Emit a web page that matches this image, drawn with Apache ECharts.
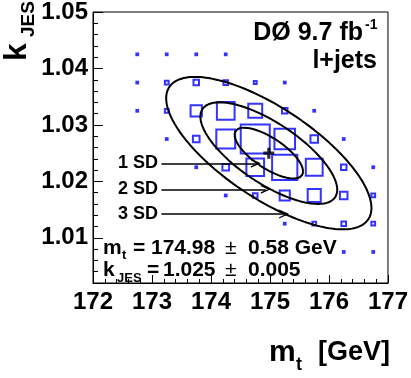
<!DOCTYPE html>
<html><head><meta charset="utf-8">
<script src="https://cdn.jsdelivr.net/npm/echarts@6/dist/echarts.min.js"></script>
<style>html,body{margin:0;padding:0;background:#fff}#c{width:411px;height:378px}</style>
</head><body><div id="c"></div>
<script>
// ---- data ----
const mtBins = [172.75, 173.25, 173.75, 174.25, 174.75, 175.25, 175.75, 176.25, 176.75];
const kjesBins = [1.0425, 1.0375, 1.0325, 1.0275, 1.0225, 1.0175, 1.0125, 1.0075];
// relative likelihood per (kJES row, mt column)
const likelihood = [
  [0.06, 0.06, 0.06, 0.06, 0,    0,    0,    0,    0   ],
  [0.06, 0.13, 0.19, 0.16, 0.10, 0.06, 0,    0,    0   ],
  [0.06, 0.13, 0.39, 0.61, 0.48, 0.19, 0.06, 0,    0   ],
  [0,    0.06, 0.23, 0.65, 1.00, 0.71, 0.26, 0.06, 0   ],
  [0,    0,    0.06, 0.23, 0.61, 0.87, 0.58, 0.19, 0.06],
  [0,    0,    0,    0.06, 0.16, 0.35, 0.45, 0.26, 0.13],
  [0,    0,    0,    0,    0,    0.06, 0.13, 0.16, 0.13],
  [0,    0,    0,    0,    0,    0,    0,    0.06, 0.06]
];
const xTickLabels = [172, 173, 174, 175, 176, 177];
const yTickLabels = [1.01, 1.02, 1.03, 1.04, 1.05];
const fitCenter = [174.98, 1.025];
const fitSigma = [0.58, 0.0045];
const fitCorrelation = -0.72;
const contourLevels = [1, 2, 3];
const contourLabels = ['1 SD', '2 SD', '3 SD'];
const arrowStartMt = 173.16;
const arrowEnds = [[174.76, 1.0232], [174.93, 1.0186], [175.24, 1.0142]];

// ---- build ----
const FF = '"Liberation Sans", Arial, Helvetica, sans-serif';
const boxes = [];
kjesBins.forEach((k, i) => mtBins.forEach((m, j) => {
  if (likelihood[i][j] > 0) boxes.push([m, k, likelihood[i][j]]);
}));

function contour(n) {
  const pts = [];
  const r = fitCorrelation, s = Math.sqrt(1 - r * r);
  for (let a = 0; a <= 360; a += 2) {
    const t = a * Math.PI / 180;
    pts.push([fitCenter[0] + n * fitSigma[0] * Math.cos(t),
              fitCenter[1] + n * fitSigma[1] * (r * Math.cos(t) + s * Math.sin(t))]);
  }
  return pts;
}

const arrowPath = 'path://M0,10 L5,0 L10,10 L8.4,10 L5,3.2 L1.6,10 Z';

const series = [
  {
    type: 'scatter', data: boxes, symbol: 'rect',
    symbolSize: v => Math.max(1.5, v[2] * 29),
    itemStyle: { color: 'rgba(0,0,0,0)', borderColor: '#0000ff', borderWidth: 2 },
    silent: true, z: 2
  }
];
contourLevels.forEach(n => series.push({
  type: 'line', data: contour(n), showSymbol: false, symbol: 'none',
  lineStyle: { color: '#000', width: 2 }, silent: true, z: 3
}));
series.push({
  type: 'scatter', data: [fitCenter],
  symbol: 'path://M3.5,0 H6.5 V3.5 H10 V6.5 H6.5 V10 H3.5 V6.5 H0 V3.5 H3.5 Z',
  symbolSize: 11, itemStyle: { color: '#000' }, silent: true, z: 5,
  markLine: {
    silent: true, animation: false,
    symbol: ['none', arrowPath], symbolSize: [9, 10],
    lineStyle: { color: '#000', width: 1.5, type: 'solid' },
    label: { show: false },
    data: arrowEnds.map(e => [{ coord: [arrowStartMt, e[1]] }, { coord: [e[0], e[1]] }])
  }
});

const txt = (text, x, y, size, align, extra, weight) => Object.assign({
  type: 'text', x: x, y: y, z: 20,
  style: { text: text, fill: '#000', fontSize: size, fontWeight: weight || 'bold', fontFamily: FF,
           align: align || 'left', verticalAlign: 'middle' }
}, extra || {});

const graphics = [
  txt('DØ 9.7 fb', 363, 33, 25, 'right'),
  txt('-1', 365, 25, 14, 'left'),
  txt('l+jets', 377, 61, 25, 'right'),
  txt('m', 103, 248, 21),
  txt('t', 122, 255, 13),
  txt('=', 133, 248, 21),
  txt('174.98', 151, 248, 21),
  txt('±', 225, 248, 21, 'left', null, 'normal'),
  txt('0.58 GeV', 248, 248, 21),
  txt('k', 103, 270, 21),
  txt('JES', 117, 278, 13),
  txt('=', 147, 270, 21),
  txt('1.025', 163, 270, 21),
  txt('±', 225, 270, 21, 'left', null, 'normal'),
  txt('0.005', 248, 270, 21),
  txt('m', 269, 353, 30),
  txt('t', 296, 365, 18),
  txt('[GeV]', 390, 353, 27, 'right'),
  txt('k', 17, 52, 32, 'center', { rotation: Math.PI / 2 }),
  txt('JES', 29, 19, 19, 'center', { rotation: Math.PI / 2 })
];
contourLabels.forEach((l, i) => graphics.push(txt(l, 118, [163, 189, 214][i], 18)));

const axisFont = { color: '#000', fontSize: 24, fontWeight: 'bold', fontFamily: FF };
const option = {
  animation: false,
  grid: { left: 93, right: 21, top: 11, bottom: 95, show: true, borderColor: '#000', borderWidth: 1, backgroundColor: 'transparent' },
  xAxis: {
    type: 'value', min: 172, max: 177, interval: 1,
    axisLine: { show: true, lineStyle: { color: '#000', width: 1 } },
    axisTick: { show: true, inside: true, length: 8, lineStyle: { color: '#000' } },
    minorTick: { show: true, splitNumber: 5, length: 4, lineStyle: { color: '#000' } },
    splitLine: { show: false },
    axisLabel: Object.assign({ margin: 7, formatter: v => xTickLabels.includes(v) ? String(v) : '' }, axisFont)
  },
  yAxis: [
    {
      type: 'value', min: 1.002, max: 1.05, interval: 0.002,
      axisLine: { show: true, lineStyle: { color: '#000', width: 1 } },
      axisTick: { show: true, inside: true, length: 5, lineStyle: { color: '#000' } },
      splitLine: { show: false }, axisLabel: { show: false }
    },
    {
      type: 'value', min: 1.002, max: 1.05, position: 'left', offset: 0,
      axisLine: { show: false },
      axisTick: { show: true, inside: true, length: 10, customValues: yTickLabels, lineStyle: { color: '#000' } },
      splitLine: { show: false },
      axisLabel: Object.assign({ margin: 5, customValues: yTickLabels, formatter: v => v.toFixed(2) }, axisFont)
    }
  ],
  series: series,
  graphic: graphics
};
const chart = echarts.init(document.getElementById('c'), null, { renderer: 'canvas' });
chart.setOption(option);
</script></body></html>
